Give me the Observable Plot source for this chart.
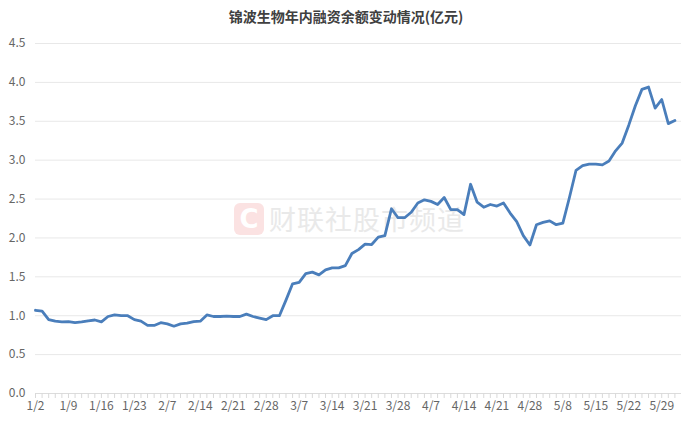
<!DOCTYPE html>
<html>
<head>
<meta charset="utf-8">
<script src="https://cdn.jsdelivr.net/npm/d3@7"></script>
<script src="https://cdn.jsdelivr.net/npm/@observablehq/plot@0.6"></script>
<style>
  html, body { margin: 0; padding: 0; background: #fff; }
  #wrap { position: relative; width: 692px; height: 425px; overflow: hidden; font-family: "Noto Sans CJK SC", "Noto Sans", sans-serif; }
  #title { height: 30px; line-height: 32px; text-align: center; font-size: 14px; font-weight: bold; color: #404040; }
  #chart { position: relative; z-index: 1; }
  #wm { position: absolute; z-index: 0; left: 234px; top: 199px; display: flex; align-items: center; pointer-events: none; }
  #wm .logo { width: 30px; height: 32px; border-radius: 6px; background: #fbe2e2; color: #fff; font-weight: bold; font-size: 26px; line-height: 32px; text-align: center; font-family: "DejaVu Sans", sans-serif; }
  #wm .txt { margin-left: 5px; font-size: 27px; color: #e9e9e9; letter-spacing: 1px; }
</style>
</head>
<body>
<div id="wrap">
  <div id="wm"><div class="logo">C</div><div class="txt">财联社股市频道</div></div>
  <div id="title">锦波生物年内融资余额变动情况(亿元)</div>
  <div id="chart"></div>
</div>
<script>
const dates = ["1/2","1/3","1/6","1/7","1/8","1/9","1/10","1/13","1/14","1/15","1/16","1/17","1/20","1/21","1/22","1/23","1/24","1/27",
  "2/5","2/6","2/7","2/10","2/11","2/12","2/13","2/14","2/17","2/18","2/19","2/20","2/21","2/24","2/25","2/26","2/27","2/28",
  "3/3","3/4","3/5","3/6","3/7","3/10","3/11","3/12","3/13","3/14","3/17","3/18","3/19","3/20","3/21","3/24","3/25","3/26","3/27","3/28","3/31",
  "4/1","4/2","4/3","4/7","4/8","4/9","4/10","4/11","4/14","4/15","4/16","4/17","4/18","4/21","4/22","4/23","4/24","4/25","4/28","4/29","4/30",
  "5/6","5/7","5/8","5/9","5/12","5/13","5/14","5/15","5/16","5/19","5/20","5/21","5/22","5/23","5/26","5/27","5/28","5/29","5/30",
  "6/3"];

const balance = [1.07,1.06,0.95,0.93,0.92, 0.925,0.91,0.92,0.935,0.945,
  0.92,0.99,1.01,1.00,1.00, 0.95,0.93,0.875,0.875,0.91,
  0.895,0.865,0.895,0.905,0.925, 0.93,1.01,0.99,0.99,0.995,
  0.99,0.99,1.02,0.99,0.97, 0.95,1.0,1.0,1.2,1.41,
  1.43,1.54,1.56,1.525,1.59, 1.615,1.615,1.645,1.80,1.85,
  1.92,1.915,2.01,2.03,2.375, 2.26,2.26,2.33,2.45,2.49,
  2.47,2.43,2.52,2.365,2.365, 2.30,2.69,2.46,2.395,2.43,
  2.41,2.45,2.32,2.21,2.03, 1.91,2.17,2.20,2.22,2.17,
  2.19,2.52,2.87,2.93,2.95, 2.95,2.94,2.99,3.12,3.22,
  3.45,3.70,3.91,3.94,3.67, 3.78,3.47,3.51];

const yTicks = [0, 0.5, 1.0, 1.5, 2.0, 2.5, 3.0, 3.5, 4.0, 4.5];
const labelEvery = 5;

const idx = dates.map((d, i) => i);
const labelIdx = idx.filter(i => i % labelEvery === 0);
const table = balance.map((v, i) => ({i, date: dates[i], v}));

const chart = Plot.plot({
  width: 692,
  height: 395,
  marginTop: 13,
  marginBottom: 32,
  marginLeft: 35,
  marginRight: 11,
  x: {type: "linear", domain: [0, dates.length]},
  y: {domain: [0, 4.5]},
  style: {fontFamily: '"Noto Sans CJK SC", "Noto Sans", sans-serif', fontSize: "12px", color: "#666", background: "transparent"},
  marks: [
    Plot.gridY(yTicks, {stroke: "#e8e8e8", strokeOpacity: 1}),
    Plot.ruleY([0], {stroke: "#dcdcdc"}),
    Plot.axisY(yTicks, {tickSize: 0, tickPadding: 10, tickFormat: d => d.toFixed(1), label: null}),
    Plot.axisX(idx, {tickSize: 5, tickFormat: () => "", stroke: "#d9d9d9", label: null}),
    Plot.axisX(labelIdx, {tickSize: 0, tickPadding: 8, tickFormat: i => dates[i], label: null}),
    Plot.line(table, {x: "i", y: "v", stroke: "#4a7ebb", strokeWidth: 2.8, strokeLinejoin: "round"})
  ]
});
document.getElementById("chart").appendChild(chart);
</script>
</body>
</html>
